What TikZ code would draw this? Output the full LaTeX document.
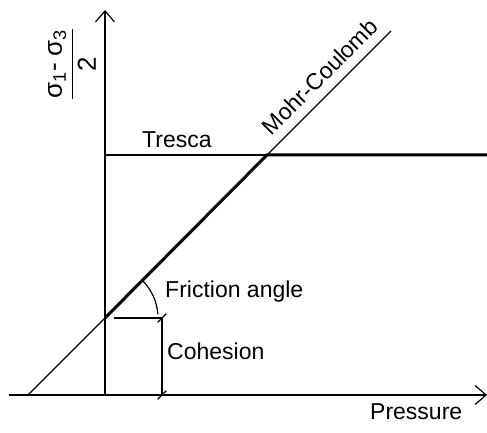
\documentclass[tikz,border=0pt]{standalone}
\usepackage{amsmath}
\usepackage{fontspec}
\setmainfont{Liberation Sans}
\usetikzlibrary{positioning,arrows.meta,calc}

\begin{document}
\begin{tikzpicture}[x=1pt, y=1pt,
  lbl/.style={font=\fontsize{23}{27}\selectfont, inner sep=0pt},
  thinln/.style={line width=1.2pt},
  thickln/.style={line width=3pt},
  axis/.style={thinln, -{Straight Barb[length=11pt, width=19pt, line width=1.2pt]}},
  tick/.style={thinln, shorten <=-6pt, shorten >=-6pt}]
\useasboundingbox (0,0) rectangle (487,433);
\coordinate (O) at (105,38);
\coordinate (ytop) at (105,423);
\coordinate (xl) at (9,38);
\coordinate (xr) at (487,38);
\coordinate (foot) at (28,38);
\coordinate (C) at (105,115);
\coordinate (T) at (267,278);
\coordinate (Tend) at (487,278);
\coordinate (MCtop) at (391,402);
\coordinate (cohT) at (162,115);
\coordinate (cohB) at (162,38);
% axes
\draw[axis] (O) -- (ytop);
\draw[axis] (xl) -- (xr);
% Tresca and Mohr-Coulomb
\draw[thinln] (ytop|-T) -- (T);
\draw[thinln] (foot) -- (C);
\draw[thinln] (T) -- (MCtop) node[lbl, pos=0.53, sloped, above=9pt] {Mohr-Coulomb};
\draw[thickln] (C) -- (T) -- (Tend);
% cohesion
\draw[thinln] ($(C)+(9,0)$) -- (cohT);
\draw[thinln] (cohT) -- (cohB);
\draw[tick] ($(cohT)+(-0.1,-0.1)$) -- ($(cohT)+(0.1,0.1)$);
\draw[tick] ($(cohB)+(-0.1,-0.1)$) -- ($(cohB)+(0.1,0.1)$);
% friction angle
\draw[thinln] ($(C)+(45:53)$) arc[start angle=45, end angle=4, radius=53];
\node[lbl, anchor=base west] (fa) at (165,135) {Friction angle};
\node[lbl, anchor=base west] (coh) at (167,73) {Cohesion};
\node[lbl, anchor=base west] (tr) at (142,285) {Tresca};
\node[lbl, anchor=base west] (pr) at (370,13) {Pressure};
\node[lbl, font=\fontsize{26}{30}\selectfont, rotate=90] (tau) at (72,369) {$\dfrac{\mbox{σ\textsubscript{1}- σ\textsubscript{3}}}{\mbox{2}}$};
\end{tikzpicture}
\end{document}
